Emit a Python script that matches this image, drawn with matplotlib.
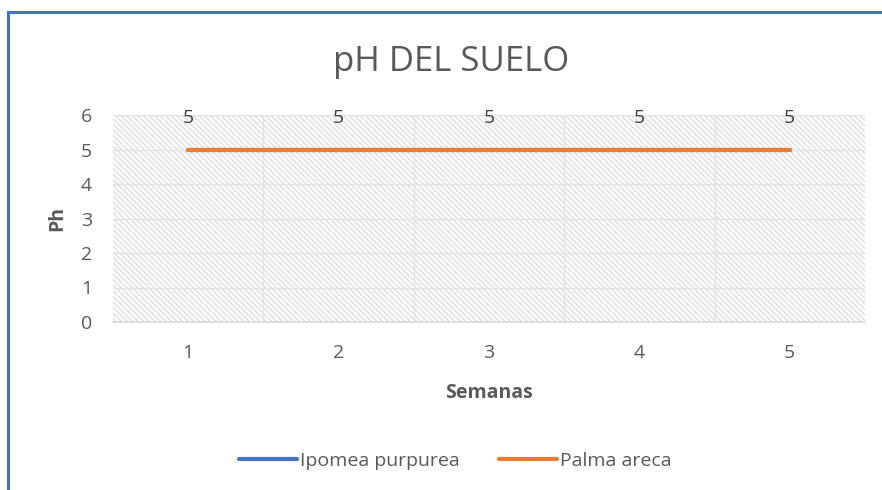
import matplotlib.pyplot as plt
from matplotlib.lines import Line2D

semanas = [1, 2, 3, 4, 5]
ipomea = [5, 5, 5, 5, 5]
palma = [5, 5, 5, 5, 5]

gris = '#595959'
plt.rcParams['font.family'] = ['Open Sans', 'DejaVu Sans']
plt.rcParams['hatch.linewidth'] = 1.3

fig = plt.figure(figsize=(8.82, 4.90), dpi=100)
ax = fig.add_axes([113/882, 1 - 322/490, 752/882, 207/490])

# fondo rayado del area de trazado
ax.axhspan(0, 6, facecolor='white', edgecolor='#e4e4e4', hatch='\\\\\\\\\\\\', linewidth=0, zorder=0)

ax.plot(semanas, ipomea, color='#4472C4', lw=3, solid_capstyle='round', label='Ipomea purpurea', zorder=3)
ax.plot(semanas, palma, color='#ED7D31', lw=3, solid_capstyle='round', label='Palma areca', zorder=4)
for x, y in zip(semanas, palma):
    ax.text(x, y + 0.9, str(y), ha='center', va='center', fontsize=14, color='#404040', zorder=5)

ax.set_xlim(0.5, 5.5)
ax.set_ylim(0, 6)
ax.set_xticks(semanas)
ax.set_yticks(range(7))
for b in [1.5, 2.5, 3.5, 4.5]:
    ax.axvline(b, color='#e3e3e3', lw=1, zorder=1)
for v in range(1, 7):
    ax.axhline(v, color='#e3e3e3', lw=1, zorder=1)

for s in ['top', 'right', 'left']:
    ax.spines[s].set_visible(False)
ax.spines['bottom'].set_color('#d9d9d9')
ax.spines['bottom'].set_linewidth(1.2)
ax.tick_params(length=0, labelsize=14, colors=gris)
ax.tick_params(axis='x', pad=16)
ax.tick_params(axis='y', pad=15)

ax.set_xlabel('Semanas', fontsize=14, fontweight='bold', color=gris, labelpad=15)
ax.set_ylabel('Ph', fontsize=14, fontweight='bold', color=gris, labelpad=10)
fig.text(451/882, 1 - 62/490, 'pH DEL SUELO', ha='center', va='center', fontsize=25, color=gris)

leg = fig.legend(loc='center', bbox_to_anchor=(455/882, 1 - 461/490), ncol=2, frameon=False,
                 fontsize=14, handlelength=3.0, handletextpad=0.15, columnspacing=2.0)
for t in leg.get_texts():
    t.set_color(gris)

# borde azul del recuadro
fig.add_artist(Line2D([8/882, 8/882], [0, 1 - 12/490], color='#4472C4', lw=2.2, transform=fig.transFigure))
fig.add_artist(Line2D([8/882, 1], [1 - 12/490, 1 - 12/490], color='#4472C4', lw=2.2, transform=fig.transFigure))

fig.savefig('out.png', dpi=100)
